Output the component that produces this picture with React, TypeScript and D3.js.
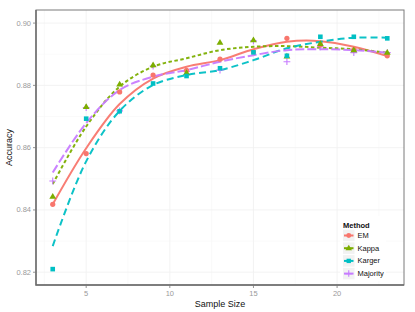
import { useEffect, useRef } from "react";
import * as d3 from "d3";

// sample sizes on the x axis
const SAMPLE_SIZES = [3, 5, 7, 9, 11, 13, 15, 17, 19, 21, 23];

// observed accuracy per method
const EM_POINTS = [0.8418, 0.8581, 0.8779, 0.8833, 0.8848, 0.8884, 0.8908, 0.8951, 0.8930, 0.8915, 0.8895];
const KAPPA_POINTS = [0.8443, 0.8731, 0.8803, 0.8865, 0.8840, 0.8937, 0.8945, 0.8893, 0.8933, 0.8913, 0.8905];
const KARGER_POINTS = [0.8210, 0.8693, 0.8717, 0.8806, 0.8830, 0.8855, 0.8906, 0.8895, 0.8956, 0.8956, 0.8951];
const MAJORITY_POINTS = [0.8493, 0.8729, 0.8718, 0.8862, 0.8845, 0.8849, 0.8943, 0.8876, 0.8924, 0.8905, 0.8905];

// smoothed fit per method, read at the same sample sizes
const EM_SMOOTH = [0.8418, 0.8598, 0.8740, 0.8822, 0.8860, 0.8881, 0.8916, 0.8940, 0.8942, 0.8924, 0.8894];
const KAPPA_SMOOTH = [0.8483, 0.8668, 0.8796, 0.8860, 0.8887, 0.8913, 0.8924, 0.8926, 0.8921, 0.8916, 0.8905];
const KARGER_SMOOTH = [0.8284, 0.8556, 0.8718, 0.8801, 0.8833, 0.8849, 0.8881, 0.8919, 0.8940, 0.8953, 0.8953];
const MAJORITY_SMOOTH = [0.8520, 0.8679, 0.8785, 0.8828, 0.8849, 0.8876, 0.8897, 0.8913, 0.8916, 0.8913, 0.8905];

const METHODS = ["EM", "Kappa", "Karger", "Majority"];
const X_TICKS = [5, 10, 15, 20];
const X_MINOR = [2.5, 7.5, 12.5, 17.5, 22.5];
const Y_TICKS = [0.82, 0.84, 0.86, 0.88, 0.9];
const Y_MINOR = [0.83, 0.85, 0.87, 0.89];

const COLORS: Record<string, string> = {
  EM: "#F8766D",
  Kappa: "#7CAE00",
  Karger: "#00BFC4",
  Majority: "#C77CFF",
};
const DASHES: Record<string, string | null> = {
  EM: null,
  Kappa: "3.5 2.5",
  Karger: "7 4",
  Majority: "9 3",
};

const W = 415;
const H = 312;
const M = { left: 36, right: 11, top: 10, bottom: 27 };
const FONT = "'Liberation Sans', Arial, sans-serif";

export default function App() {
  const svgRef = useRef<SVGSVGElement>(null);

  useEffect(() => {
    const svg = d3.select(svgRef.current!);
    svg.selectAll("*").remove();

    const x = d3.scaleLinear().domain([2, 24]).range([M.left, W - M.right]);
    const y = d3.scaleLinear().domain([0.8159, 0.9042]).range([H - M.bottom, M.top]);

    const series = [
      { name: "EM", pts: EM_POINTS, fit: EM_SMOOTH },
      { name: "Kappa", pts: KAPPA_POINTS, fit: KAPPA_SMOOTH },
      { name: "Karger", pts: KARGER_POINTS, fit: KARGER_SMOOTH },
      { name: "Majority", pts: MAJORITY_POINTS, fit: MAJORITY_SMOOTH },
    ];

    // ── grid ─────────────────────────────────────────────────────────────
    const grid = svg.append("g");
    grid.selectAll(".xm").data(X_MINOR).join("line")
      .attr("x1", (d) => x(d)).attr("x2", (d) => x(d))
      .attr("y1", M.top).attr("y2", H - M.bottom)
      .attr("stroke", "#f7f7f7").attr("stroke-width", 0.6);
    grid.selectAll(".ym").data(Y_MINOR).join("line")
      .attr("x1", M.left).attr("x2", W - M.right)
      .attr("y1", (d) => y(d)).attr("y2", (d) => y(d))
      .attr("stroke", "#f7f7f7").attr("stroke-width", 0.6);
    grid.selectAll(".xM").data(X_TICKS).join("line")
      .attr("x1", (d) => x(d)).attr("x2", (d) => x(d))
      .attr("y1", M.top).attr("y2", H - M.bottom)
      .attr("stroke", "#f0f0f0").attr("stroke-width", 0.8);
    grid.selectAll(".yM").data(Y_TICKS).join("line")
      .attr("x1", M.left).attr("x2", W - M.right)
      .attr("y1", (d) => y(d)).attr("y2", (d) => y(d))
      .attr("stroke", "#f0f0f0").attr("stroke-width", 0.8);

    // ── smooth lines ─────────────────────────────────────────────────────
    const line = d3.line<number>()
      .x((_, i) => x(SAMPLE_SIZES[i]))
      .y((v) => y(v))
      .curve(d3.curveCatmullRom);

    series.forEach((s) => {
      svg.append("path")
        .attr("d", line(s.fit))
        .attr("fill", "none")
        .attr("stroke", COLORS[s.name])
        .attr("stroke-width", 2)
        .attr("stroke-dasharray", DASHES[s.name])
        .attr("opacity", 0.95);
    });

    // ── points ───────────────────────────────────────────────────────────
    const drawMarker = (
      g: d3.Selection<SVGGElement, unknown, null, undefined>,
      name: string, cx: number, cy: number, scale = 1,
    ) => {
      const c = COLORS[name];
      if (name === "EM") {
        g.append("circle").attr("cx", cx).attr("cy", cy).attr("r", 2.6 * scale).attr("fill", c);
      } else if (name === "Kappa") {
        const r = 3.6 * scale;
        g.append("path")
          .attr("d", `M${cx},${cy - r}L${cx + r * 0.95},${cy + r * 0.6}L${cx - r * 0.95},${cy + r * 0.6}Z`)
          .attr("fill", c);
      } else if (name === "Karger") {
        const s = 4.6 * scale;
        g.append("rect").attr("x", cx - s / 2).attr("y", cy - s / 2)
          .attr("width", s).attr("height", s).attr("fill", c);
      } else {
        const r = 3.4 * scale;
        g.append("path")
          .attr("d", `M${cx - r},${cy}H${cx + r}M${cx},${cy - r}V${cy + r}`)
          .attr("stroke", c).attr("stroke-width", 1.1);
      }
    };

    // majority crosses go underneath the filled markers
    const pts = svg.append("g");
    [series[3], series[0], series[1], series[2]].forEach((s) => {
      s.pts.forEach((v, i) => drawMarker(pts, s.name, x(SAMPLE_SIZES[i]), y(v)));
    });

    // ── panel border ─────────────────────────────────────────────────────
    svg.append("rect")
      .attr("x", M.left).attr("y", M.top)
      .attr("width", W - M.left - M.right).attr("height", H - M.top - M.bottom)
      .attr("fill", "none").attr("stroke", "#7a7a7a").attr("stroke-width", 1);
    svg.append("path")
      .attr("d", `M${M.left},${M.top}V${H - M.bottom}H${W - M.right}`)
      .attr("fill", "none").attr("stroke", "#6a6a6a").attr("stroke-width", 1.4);

    // ── axes ─────────────────────────────────────────────────────────────
    const axes = svg.append("g").attr("font-family", FONT);
    X_TICKS.forEach((t) => {
      axes.append("line").attr("x1", x(t)).attr("x2", x(t))
        .attr("y1", H - M.bottom).attr("y2", H - M.bottom + 3)
        .attr("stroke", "#7a7a7a").attr("stroke-width", 0.8);
      axes.append("text").attr("x", x(t)).attr("y", H - M.bottom + 11)
        .attr("text-anchor", "middle").attr("font-size", 7.5).attr("fill", "#9a9a9a")
        .text(String(t));
    });
    Y_TICKS.forEach((t) => {
      axes.append("line").attr("x1", M.left - 3).attr("x2", M.left)
        .attr("y1", y(t)).attr("y2", y(t))
        .attr("stroke", "#7a7a7a").attr("stroke-width", 0.8);
      axes.append("text").attr("x", M.left - 5).attr("y", y(t))
        .attr("dominant-baseline", "central")
        .attr("text-anchor", "end").attr("font-size", 7.5).attr("fill", "#9a9a9a")
        .text(t.toFixed(2));
    });
    axes.append("text")
      .attr("x", (M.left + W - M.right) / 2).attr("y", H - 5)
      .attr("text-anchor", "middle").attr("font-size", 9).attr("fill", "#111")
      .text("Sample Size");
    axes.append("text")
      .attr("transform", `translate(12,${(M.top + H - M.bottom) / 2}) rotate(-90)`)
      .attr("text-anchor", "middle").attr("font-size", 9).attr("fill", "#111")
      .text("Accuracy");

    // ── legend ───────────────────────────────────────────────────────────
    const lg = svg.append("g").attr("font-family", FONT);
    const lx = 343;
    lg.append("rect").attr("x", lx - 3).attr("y", 216).attr("width", 46).attr("height", 65)
      .attr("fill", "white");
    lg.append("text").attr("x", lx).attr("y", 228).attr("font-size", 7.5)
      .attr("font-weight", "bold").attr("fill", "#111").text("Method");
    METHODS.forEach((m, i) => {
      const cy = 235.5 + i * 12.7;
      lg.append("rect").attr("x", lx).attr("y", cy - 5.8).attr("width", 11.5).attr("height", 11.5)
        .attr("fill", "#f2f2f2");
      lg.append("line").attr("x1", lx + 1).attr("x2", lx + 10.5).attr("y1", cy).attr("y2", cy)
        .attr("stroke", COLORS[m]).attr("stroke-width", 2);
      drawMarker(lg, m, lx + 5.75, cy, 0.95);
      lg.append("text").attr("x", lx + 14.5).attr("y", cy)
        .attr("dominant-baseline", "central")
        .attr("font-size", 7.5).attr("fill", "#111").text(m);
    });
  }, []);

  return (
    <svg
      ref={svgRef}
      width={W}
      height={H}
      style={{ position: "absolute", left: 0, top: 0, background: "white" }}
    />
  );
}
